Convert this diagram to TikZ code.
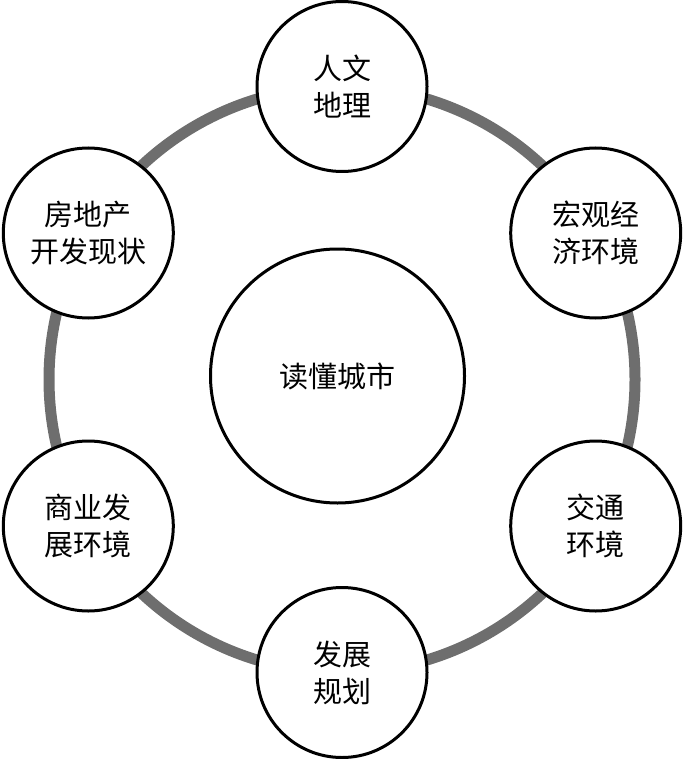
\documentclass[tikz,border=0pt]{standalone}
\usepackage{fontspec}
\newfontfamily\cjk{Noto Sans CJK SC}
\begin{document}
\begin{tikzpicture}[x=1pt,y=-1pt,
  sat/.style={circle,draw=black,line width=3pt,fill=white,minimum size=170pt,inner sep=0pt,
    align=center,font=\cjk\fontsize{29}{37}\selectfont},
  hub/.style={circle,draw=black,line width=3pt,fill=white,minimum size=254pt,inner sep=0pt,
    align=center,font=\cjk\fontsize{29}{37}\selectfont},
  ring/.style={draw=black!57,line width=11pt}]
\useasboundingbox (0,0) rectangle (684,759);
\coordinate (o) at (342,379.5);
\draw[ring] (o) circle[radius=293];
\node[hub] (c) at (337.5,376) {读懂城市};
\node[sat] (n1) at (342,86.5) {人文\\地理};
\node[sat] (n2) at (595.7,233) {宏观经\\济环境};
\node[sat] (n3) at (595.7,526) {交通\\环境};
\node[sat] (n4) at (342,672.5) {发展\\规划};
\node[sat] (n5) at (88.3,526) {商业发\\展环境};
\node[sat] (n6) at (88.3,233) {房地产\\开发现状};
\end{tikzpicture}
\end{document}
